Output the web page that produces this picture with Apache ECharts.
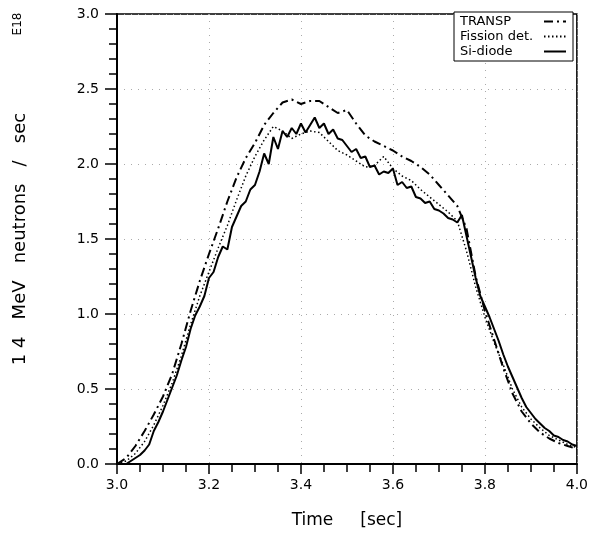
<!DOCTYPE html>
<html>
<head>
<meta charset="utf-8">
<script src="https://cdn.jsdelivr.net/npm/echarts@6/dist/echarts.min.js"></script>
<style>html,body{margin:0;padding:0;background:#fff;}#c{width:591px;height:537px;}</style>
</head>
<body>
<div id="c"></div>
<script>
const seriesNames = ['TRANSP', 'Fission det.', 'Si-diode'];
const xTickLabels = ['3.0', '3.2', '3.4', '3.6', '3.8', '4.0'];
const yTickLabels = ['0.0', '0.5', '1.0', '1.5', '2.0', '2.5', '3.0'];

const tCoarse = [3.00,3.02,3.04,3.06,3.08,3.10,3.12,3.14,3.16,3.18,
  3.20,3.22,3.24,3.26,3.28,3.30,3.32,3.34,3.36,3.38,
  3.40,3.42,3.44,3.46,3.48,3.50,3.52,3.54,3.56,3.58,
  3.60,3.62,3.64,3.66,3.68,3.70,3.72,3.74,3.76,3.78,
  3.80,3.82,3.84,3.86,3.88,3.90,3.92,3.94,3.96,3.98,4.00];

const transpValues = [0.00,0.04,0.12,0.22,0.33,0.45,0.60,0.80,1.02,1.22,
  1.40,1.57,1.75,1.91,2.04,2.14,2.26,2.34,2.41,2.43,
  2.40,2.42,2.42,2.38,2.34,2.36,2.27,2.19,2.15,2.12,
  2.09,2.05,2.02,1.98,1.93,1.86,1.79,1.72,1.57,1.25,
  1.02,0.83,0.64,0.47,0.35,0.27,0.21,0.17,0.14,0.12,0.10];

const fissionValues = [0.00,0.02,0.07,0.15,0.26,0.39,0.54,0.72,0.93,1.12,
  1.28,1.44,1.59,1.76,1.92,2.05,2.16,2.25,2.22,2.17,
  2.20,2.22,2.21,2.15,2.09,2.06,2.02,1.98,1.99,2.05,
  1.97,1.92,1.89,1.83,1.78,1.73,1.68,1.62,1.42,1.18,
  0.98,0.81,0.66,0.50,0.38,0.30,0.24,0.19,0.16,0.13,0.11];

const tFine = [3.00,3.01,3.02,3.03,3.04,3.05,3.06,3.07,3.08,3.09,
  3.10,3.11,3.12,3.13,3.14,3.15,3.16,3.17,3.18,3.19,
  3.20,3.21,3.22,3.23,3.24,3.25,3.26,3.27,3.28,3.29,
  3.30,3.31,3.32,3.33,3.34,3.35,3.36,3.37,3.38,3.39,
  3.40,3.41,3.42,3.43,3.44,3.45,3.46,3.47,3.48,3.49,
  3.50,3.51,3.52,3.53,3.54,3.55,3.56,3.57,3.58,3.59,
  3.60,3.61,3.62,3.63,3.64,3.65,3.66,3.67,3.68,3.69,
  3.70,3.71,3.72,3.73,3.74,3.75,3.76,3.77,3.78,3.79,
  3.80,3.81,3.82,3.83,3.84,3.85,3.86,3.87,3.88,3.89,
  3.90,3.91,3.92,3.93,3.94,3.95,3.96,3.97,3.98,3.99,4.00];

const siValues = [0.00,0.00,0.00,0.02,0.04,0.06,0.09,0.13,0.22,0.28,
  0.35,0.43,0.51,0.59,0.69,0.78,0.90,0.99,1.05,1.12,
  1.24,1.28,1.38,1.45,1.43,1.58,1.65,1.72,1.75,1.83,
  1.86,1.95,2.07,2.00,2.18,2.10,2.22,2.18,2.24,2.20,
  2.27,2.21,2.26,2.31,2.24,2.27,2.20,2.23,2.17,2.16,
  2.12,2.08,2.10,2.04,2.05,1.98,1.99,1.93,1.95,1.94,
  1.97,1.86,1.88,1.84,1.85,1.78,1.77,1.74,1.75,1.70,
  1.69,1.67,1.64,1.63,1.61,1.66,1.52,1.38,1.24,1.12,
  1.05,0.98,0.90,0.82,0.73,0.65,0.58,0.51,0.44,0.38,
  0.34,0.30,0.27,0.24,0.22,0.19,0.18,0.16,0.15,0.13,0.12];

function pairs(t, v) { return t.map((x, i) => [x, v[i]]); }

const FONT = 'DejaVu Sans';
const chart = echarts.init(document.getElementById('c'), null, {renderer: 'canvas'});
chart.setOption({
  animation: false,
  backgroundColor: '#fff',
  grid: {left: 117, right: 14, top: 14, bottom: 73, show: true, borderColor: '#000', borderWidth: 1.5},
  legend: {
    orient: 'vertical', right: 18, top: 12, align: 'right',
    padding: [3, 6, 3, 6], itemGap: 2, itemWidth: 22, itemHeight: 13,
    borderColor: '#000', borderWidth: 1, backgroundColor: '#fff',
    itemStyle: {color: 'rgba(0,0,0,0)', borderColor: 'rgba(0,0,0,0)', borderWidth: 0},
    formatter: name => '{n|' + name + '}',
    textStyle: {fontFamily: FONT, fontSize: 13, color: '#000',
      rich: {n: {fontFamily: FONT, fontSize: 13, color: '#000', width: 79, align: 'left'}}},
    data: seriesNames
  },
  xAxis: {
    type: 'value', min: 3, max: 4, interval: 0.2,
    axisLine: {show: true, lineStyle: {color: '#000', width: 2}},
    axisTick: {show: true, length: 10, lineStyle: {color: '#000', width: 1.5}},
    minorTick: {show: true, splitNumber: 4, length: 8, lineStyle: {color: '#000', width: 1.5}},
    axisLabel: {margin: 14, fontFamily: FONT, fontSize: 14, color: '#000',
      formatter: v => xTickLabels.find(s => Math.abs(parseFloat(s) - v) < 1e-6) || ''},
    splitLine: {show: true, lineStyle: {color: '#aaa', width: 1, type: [1, 6]}},
    name: 'Time     [sec]', nameLocation: 'middle', nameGap: 48,
    nameTextStyle: {fontFamily: FONT, fontSize: 17, color: '#000'}
  },
  yAxis: {
    type: 'value', min: 0, max: 3, interval: 0.5,
    axisLine: {show: true, lineStyle: {color: '#000', width: 2}},
    axisTick: {show: true, length: 12, lineStyle: {color: '#000', width: 1.5}},
    minorTick: {show: true, splitNumber: 5, length: 8, lineStyle: {color: '#000', width: 1.5}},
    axisLabel: {margin: 18, fontFamily: FONT, fontSize: 14, color: '#000',
      formatter: v => yTickLabels.find(s => Math.abs(parseFloat(s) - v) < 1e-6) || ''},
    splitLine: {show: true, lineStyle: {color: '#aaa', width: 1, type: [1, 6]}},
    name: '1 4   MeV   neutrons   /   sec', nameLocation: 'middle', nameGap: 88, nameRotate: 90,
    nameTextStyle: {fontFamily: FONT, fontSize: 18, color: '#000'}
  },
  graphic: [{
    type: 'text', x: 18, y: 24, rotation: Math.PI / 2,
    style: {text: 'E18', fontFamily: FONT, fontSize: 12, fill: '#000', align: 'center', verticalAlign: 'middle'}
  }],
  series: [
    {name: seriesNames[0], type: 'line', data: pairs(tCoarse, transpValues), showSymbol: false, symbol: 'none',
      lineStyle: {color: '#000', width: 2, type: [9, 4, 2, 4]}, itemStyle: {color: '#000'}},
    {name: seriesNames[1], type: 'line', data: pairs(tCoarse, fissionValues), showSymbol: false, symbol: 'none',
      lineStyle: {color: '#000', width: 1.5, type: [1.5, 2.5]}, itemStyle: {color: '#000'}},
    {name: seriesNames[2], type: 'line', data: pairs(tFine, siValues), showSymbol: false, symbol: 'none',
      lineStyle: {color: '#000', width: 2}, itemStyle: {color: '#000'}}
  ]
});
</script>
</body>
</html>
